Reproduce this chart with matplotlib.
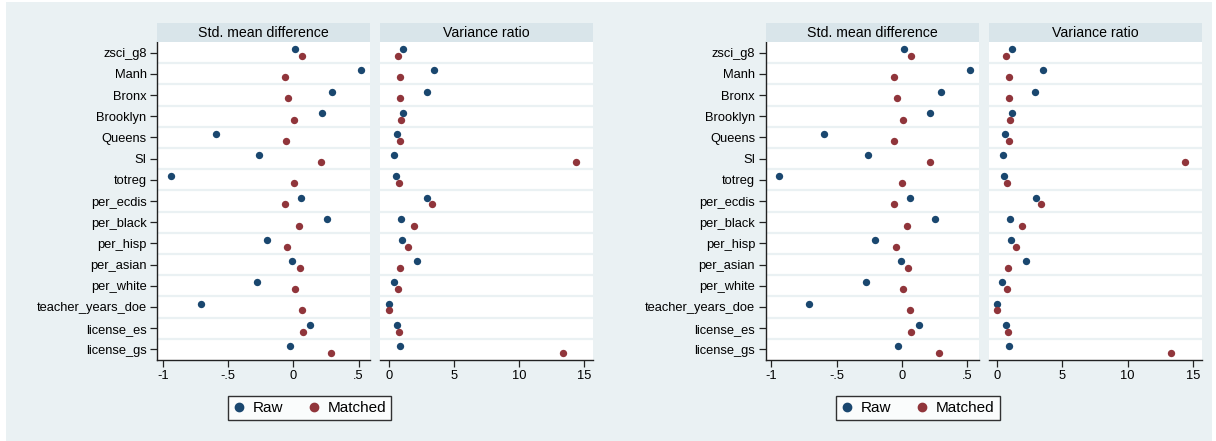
import numpy as np
import matplotlib.pyplot as plt
from matplotlib.lines import Line2D
from matplotlib.patches import Rectangle

plt.rcParams['font.family'] = ['Liberation Sans', 'DejaVu Sans']

variables = ["zsci_g8", "Manh", "Bronx", "Brooklyn", "Queens", "SI", "totreg",
             "per_ecdis", "per_black", "per_hisp", "per_asian", "per_white",
             "teacher_years_doe", "license_es", "license_gs"]

# standardized mean differences
smd_raw = [0.014, 0.52, 0.30, 0.217, -0.594, -0.263, -0.94, 0.06, 0.258, -0.204,
           -0.009, -0.278, -0.709, 0.129, -0.027]
smd_matched = [0.068, -0.063, -0.037, 0.009, -0.058, 0.214, 0.004, -0.063, 0.04,
               -0.048, 0.048, 0.012, 0.063, 0.071, 0.288]

# variance ratios
vr_raw = [1.10, 3.50, 2.91, 1.12, 0.61, 0.41, 0.56, 2.94, 0.97, 1.05, 2.19, 0.38,
          0.0, 0.66, 0.87]
vr_matched = [0.69, 0.89, 0.89, 0.97, 0.89, 14.39, 0.77, 3.35, 1.92, 1.48, 0.84,
              0.74, 0.0, 0.81, 13.34]

smd_ticks = [-1, -0.5, 0, 0.5]
smd_ticklabels = ["-1", "-.5", "0", ".5"]
vr_ticks = [0, 5, 10, 15]
vr_ticklabels = ["0", "5", "10", "15"]

W, H = 1216, 441
bg = "#EAF1F3"
strip = "#D9E5EA"
navy = "#1A476F"
maroon = "#90353B"

fig = plt.figure(figsize=(W / 100, H / 100), dpi=100, facecolor="white")


def box(x0, x1, ytop, ybot):
    return [x0 / W, 1 - ybot / H, (x1 - x0) / W, (ybot - ytop) / H]


rows = np.arange(1, len(variables) + 1)

# two identical graphs side by side
for dx, pleft, pright in [(0, 6, 612), (608.5, 612, 1212)]:
    fig.patches.append(Rectangle((pleft / W, 0), (pright - pleft) / W, 1 - 2 / H,
                                 transform=fig.transFigure, facecolor=bg,
                                 edgecolor="none", zorder=-10))

    panels = [
        (157 + dx, 370 + dx, "Std. mean difference", smd_raw, smd_matched,
         (-1.045, 0.588), smd_ticks, smd_ticklabels, True),
        (380 + dx, 593 + dx, "Variance ratio", vr_raw, vr_matched,
         (-0.667, 15.67), vr_ticks, vr_ticklabels, False),
    ]
    for x0, x1, title, raw, matched, xlim, ticks, ticklabels, first in panels:
        ax = fig.add_axes(box(x0, x1, 42, 360))
        ax.set_facecolor("white")
        for r in np.arange(1.5, len(variables), 1.0):
            ax.axhline(r, color=bg, lw=1.6, zorder=1)
        ax.scatter(raw, rows - 0.165, s=28, color=navy, zorder=3, linewidths=0)
        ax.scatter(matched, rows + 0.165, s=28, color=maroon, zorder=3, linewidths=0)
        ax.set_xlim(*xlim)
        ax.set_ylim(len(variables) + 0.5, 0.5)
        ax.set_xticks(ticks)
        ax.set_xticklabels(ticklabels, fontsize=9.3)
        for s in ["top", "right"]:
            ax.spines[s].set_visible(False)
        ax.spines["bottom"].set_color("#222222")
        ax.spines["bottom"].set_linewidth(1.0)
        if first:
            ax.set_yticks(rows)
            ax.set_yticklabels(variables, fontsize=9.3)
            ax.spines["left"].set_color("#222222")
            ax.spines["left"].set_linewidth(1.0)
        else:
            ax.set_yticks([])
            ax.spines["left"].set_visible(False)
        ax.tick_params(length=5, width=0.9, color="#222222", pad=2.5)

        hx = fig.add_axes(box(x0, x1, 23, 42))
        hx.set_facecolor(strip)
        hx.set_xticks([])
        hx.set_yticks([])
        for s in hx.spines.values():
            s.set_visible(False)
        hx.text(0.5, 0.45, title, ha="center", va="center", fontsize=10.2,
                transform=hx.transAxes)

    handles = [Line2D([], [], ls="none", marker="o", ms=6, color=navy),
               Line2D([], [], ls="none", marker="o", ms=6, color=maroon)]
    leg = fig.legend(handles, ["Raw", "Matched"], ncol=2, loc="center",
                     bbox_to_anchor=((309.5 + dx) / W, 1 - 408 / H),
                     fontsize=11, frameon=True, fancybox=False, edgecolor="black",
                     handlelength=0.8, handletextpad=0.5, columnspacing=1.6,
                     borderpad=0.35)
    leg.get_frame().set_linewidth(1.0)

fig.savefig("out.png", dpi=100, facecolor=fig.get_facecolor())
